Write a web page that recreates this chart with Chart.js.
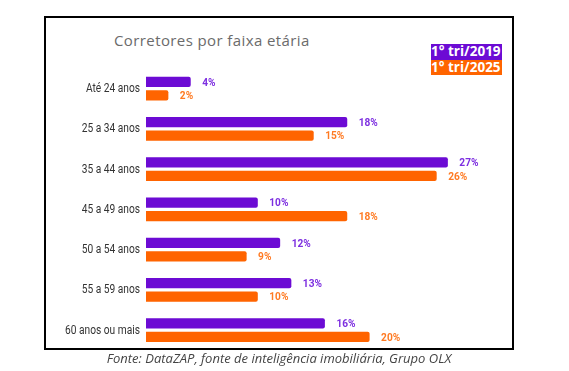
<!DOCTYPE html>
<html>
<head>
<meta charset="utf-8">
<script src="https://cdn.jsdelivr.net/npm/chart.js@4"></script>
<style>
  html, body { margin: 0; padding: 0; background: #fff; }
  #wrap { position: relative; width: 569px; height: 371px; }
  #frame { position: absolute; left: 44px; top: 16px; width: 466px; height: 330px; border: 2px solid #000; }
  #title { position: absolute; left: 114px; top: 30px; font: 15px "Open Sans", sans-serif; letter-spacing: 0.4px; color: #6b6b6b; }
  .leg { position: absolute; left: 431px; font: bold 13.5px "Open Sans", sans-serif; color: #fff; line-height: 15.5px; padding: 0 1px 0 0; }
  #leg1 { top: 44px; background: #6c0bd4; }
  #leg2 { top: 59.5px; background: #ff6400; }
  #source { position: absolute; left: 0; width: 558px; top: 349px; text-align: center; font: italic 13px "Open Sans", sans-serif; color: #444; }
  canvas { position: absolute; left: 0; top: 0; }
</style>
</head>
<body>
<div id="wrap">
  <div id="frame"></div>
  <div id="title">Corretores por faixa etária</div>
  <div class="leg" id="leg1">1° tri/2019</div>
  <div class="leg" id="leg2">1° tri/2025</div>
  <canvas id="chart" width="569" height="371"></canvas>
  <div id="source">Fonte: DataZAP, fonte de inteligência imobiliária, Grupo OLX</div>
</div>
<script>
const categories = ['Até 24 anos', '25 a 34 anos', '35 a 44 anos', '45 a 49 anos', '50 a 54 anos', '55 a 59 anos', '60 anos ou mais'];
const values2019 = [4, 18, 27, 10, 12, 13, 16];
const values2025 = [2, 15, 26, 18, 9, 10, 20];

// text squeezed horizontally (the original uses a narrow face), anchored at x
function narrowText(ctx, text, x, y, align, squeeze) {
  ctx.save();
  ctx.translate(x, y);
  ctx.scale(squeeze, 1);
  ctx.textAlign = align;
  ctx.fillText(text, 0, 0);
  ctx.restore();
}

// category names, placed from the y scale
const narrowTicks = {
  id: 'narrowTicks',
  afterDraw(chart) {
    const ctx = chart.ctx;
    const y = chart.scales.y;
    ctx.save();
    ctx.font = '12px Roboto, sans-serif';
    ctx.fillStyle = '#333';
    ctx.textBaseline = 'middle';
    y.ticks.forEach((t, i) => {
      narrowText(ctx, y.getLabelForValue(t.value), chart.chartArea.left - 6, y.getPixelForTick(i) + 0.5, 'right', 0.85);
    });
    ctx.restore();
  }
};

// "18%" labels at the end of each bar
const barLabels = {
  id: 'barLabels',
  afterDatasetsDraw(chart) {
    const ctx = chart.ctx;
    ctx.save();
    ctx.font = 'bold 11.5px Roboto, sans-serif';
    ctx.textBaseline = 'middle';
    chart.data.datasets.forEach((ds, i) => {
      ctx.fillStyle = ds.labelColor;
      chart.getDatasetMeta(i).data.forEach((bar, j) => {
        narrowText(ctx, ds.data[j] + '%', bar.x + 11.5, bar.y + 1, 'left', 0.88);
      });
    });
    ctx.restore();
  }
};

new Chart(document.getElementById('chart'), {
  type: 'bar',
  data: {
    labels: categories,
    datasets: [
      {
        label: '1° tri/2019',
        data: values2019,
        backgroundColor: '#6c0bd4',
        labelColor: '#7d2fe0',
        borderRadius: 2,
        borderSkipped: 'start',
      },
      {
        label: '1° tri/2025',
        data: values2025,
        backgroundColor: '#ff6400',
        labelColor: '#ff7a22',
        borderRadius: 2,
        borderSkipped: 'start',
      },
    ],
  },
  options: {
    indexAxis: 'y',
    responsive: false,
    animation: false,
    categoryPercentage: 0.67,
    barPercentage: 0.76,
    layout: { padding: { left: 0, right: 87.6, top: 68.4, bottom: 20.8 } },
    plugins: {
      legend: { display: false },
      tooltip: { enabled: false },
    },
    scales: {
      x: { display: false, min: 0, max: 30 },
      y: {
        grid: { display: false, drawTicks: false },
        border: { display: false },
        ticks: { padding: 6, color: 'rgba(0,0,0,0)', font: { size: 12 } },
        afterFit(scale) { scale.width = 146; },
      },
    },
  },
  plugins: [barLabels, narrowTicks],
});
</script>
</body>
</html>
